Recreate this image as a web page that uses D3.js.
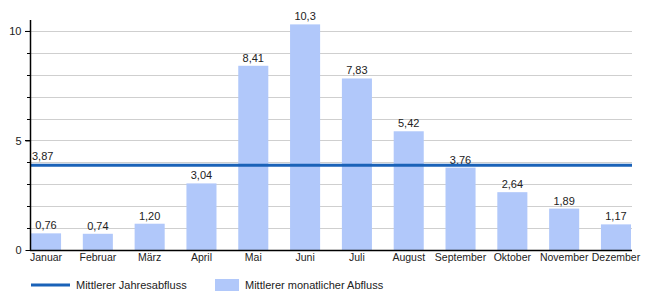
<!DOCTYPE html>
<html>
<head>
<meta charset="utf-8">
<script src="https://cdn.jsdelivr.net/npm/d3@7"></script>
<style>
  body { margin: 0; background: #fff; }
  text { font-family: "Liberation Sans", Arial, sans-serif; fill: #222; }
</style>
</head>
<body>
<svg id="chart"></svg>
<script>
// monthly mean discharge
var months = ["Januar", "Februar", "März", "April", "Mai", "Juni",
              "Juli", "August", "September", "Oktober", "November", "Dezember"];
var flow = [0.76, 0.74, 1.20, 3.04, 8.41, 10.3, 7.83, 5.42, 3.76, 2.64, 1.89, 1.17];
var yearMean = 3.87;
var yTicks = [0, 5, 10];
var legendNames = ["Mittlerer Jahresabfluss", "Mittlerer monatlicher Abfluss"];

var W = 650, H = 300;
var pLeft = 30, pRight = 632, pTop = 20, pBottom = 250;
var barColor = "#b1c8fa", lineColor = "#1a62b8";

var svg = d3.select("#chart").attr("width", W).attr("height", H);

var x = d3.scaleBand()
    .domain(months)
    .range([31, 631])
    .paddingInner(0.42)
    .paddingOuter(0)
    .align(0);

var y = d3.scaleLinear()
    .domain([0, 10.5])
    .range([pBottom, pTop]);

var fmt = function(d) {
  return (d >= 10 ? d.toFixed(1) : d.toFixed(2)).replace(".", ",");
};

// grid lines, one per unit
var gridVals = d3.range(1, 11);
svg.append("g").selectAll("line")
    .data(gridVals)
  .enter().append("line")
    .attr("x1", pLeft).attr("x2", pRight)
    .attr("y1", function(d) { return Math.round(y(d)) + 0.5; })
    .attr("y2", function(d) { return Math.round(y(d)) + 0.5; })
    .attr("stroke", "#cfcfcf")
    .attr("stroke-width", 1);

// minor ticks
svg.append("g").selectAll("line")
    .data(gridVals)
  .enter().append("line")
    .attr("x1", function(d) { return d % 5 == 0 ? pLeft - 5 : pLeft - 3; })
    .attr("x2", pLeft)
    .attr("y1", function(d) { return Math.round(y(d)) + 0.5; })
    .attr("y2", function(d) { return Math.round(y(d)) + 0.5; })
    .attr("stroke", "#000");

// bars
svg.append("g").selectAll("rect")
    .data(flow)
  .enter().append("rect")
    .attr("x", function(d, i) { return x(months[i]); })
    .attr("y", function(d) { return y(d); })
    .attr("width", x.bandwidth())
    .attr("height", function(d) { return pBottom - y(d); })
    .attr("fill", barColor);

// bar labels
svg.append("g").selectAll("text")
    .data(flow)
  .enter().append("text")
    .attr("x", function(d, i) { return x(months[i]) + x.bandwidth() / 2; })
    .attr("y", function(d) { return y(d) - 4; })
    .attr("text-anchor", "middle")
    .style("font-size", "11px")
    .text(fmt);

// yearly mean line
svg.append("line")
    .attr("x1", pLeft).attr("x2", pRight)
    .attr("y1", y(yearMean)).attr("y2", y(yearMean))
    .attr("stroke", lineColor)
    .attr("stroke-width", 3);

svg.append("text")
    .attr("x", pLeft + 2)
    .attr("y", y(yearMean) - 5)
    .style("font-size", "11px")
    .text(fmt(yearMean));

// axes
var yAxis = d3.axisLeft(y).tickValues(yTicks).tickSize(5).tickFormat(d3.format("d"));
var gy = svg.append("g")
    .attr("transform", "translate(" + (pLeft + 0.5) + ",0)")
    .call(yAxis);
gy.select(".domain").attr("d", "M0," + pTop + "V" + pBottom).attr("stroke-width", 1.5);
gy.selectAll("text").style("font-size", "11px").attr("fill", "#222").attr("x", -9);

var xAxis = d3.axisBottom(x).tickSize(0).tickPadding(4);
var gx = svg.append("g")
    .attr("transform", "translate(0," + pBottom + ")")
    .call(xAxis);
gx.select(".domain").remove();
gx.selectAll("text").style("font-size", "10.5px").attr("fill", "#222");

svg.append("line")
    .attr("x1", pLeft).attr("x2", pRight)
    .attr("y1", pBottom + 0.5).attr("y2", pBottom + 0.5)
    .attr("stroke", "#000").attr("stroke-width", 1.5);

// legend
var lg = svg.append("g").attr("transform", "translate(0,285)");
lg.append("line")
    .attr("x1", 31).attr("x2", 70)
    .attr("y1", 0).attr("y2", 0)
    .attr("stroke", lineColor).attr("stroke-width", 3);
lg.append("text")
    .attr("x", 76).attr("y", 4)
    .style("font-size", "11px")
    .text(legendNames[0]);
lg.append("rect")
    .attr("x", 215).attr("y", -6)
    .attr("width", 24).attr("height", 12)
    .attr("fill", barColor);
lg.append("text")
    .attr("x", 245).attr("y", 4)
    .style("font-size", "11px")
    .text(legendNames[1]);
</script>
</body>
</html>
